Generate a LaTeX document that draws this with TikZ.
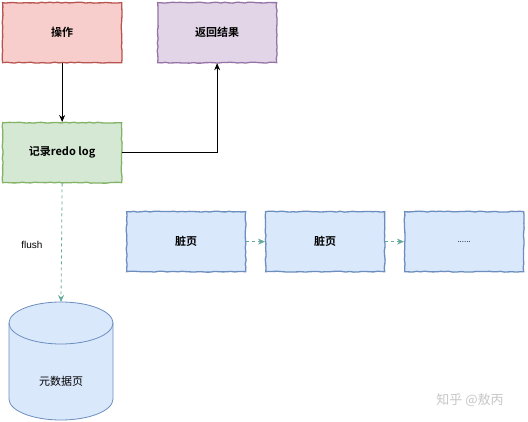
\documentclass[tikz,border=0pt]{standalone}
\usepackage{fontspec}
\setmainfont{Liberation Sans}
\newfontfamily\cjk{Noto Sans CJK SC}
\newfontfamily\cjkb{Noto Sans CJK SC Bold}
\usetikzlibrary{arrows.meta,decorations.pathmorphing}
\definecolor{redfill}{HTML}{F8CECC}\definecolor{redline}{HTML}{B85450}
\definecolor{purfill}{HTML}{E1D5E7}\definecolor{purline}{HTML}{9673A6}
\definecolor{grnfill}{HTML}{D5E8D4}\definecolor{grnline}{HTML}{82B366}
\definecolor{blufill}{HTML}{DAE8FC}\definecolor{bluline}{HTML}{6C8EBF}
\definecolor{tealline}{HTML}{67AB9F}
\begin{document}
\begin{tikzpicture}[x=1pt,y=-1pt,
  box/.style={draw, line width=1.3pt, minimum width=119pt, minimum height=60pt, anchor=north west, inner sep=0pt,
    font=\cjkb\fontsize{11}{13}\selectfont,
    decorate, decoration={random steps, segment length=4pt, amplitude=0.5pt}},
  solidarrow/.style={draw=black, line width=0.8pt, -{Stealth[length=7pt,width=6pt]}},
  dasharrow/.style={draw=tealline, line width=0.8pt, dashed, dash pattern=on 3pt off 3pt, -{Stealth[length=7pt,width=6pt]}}]
\path[use as bounding box, fill=white] (0,0) rectangle (528,422);
\node[box, fill=redfill, draw=redline] (op) at (2,2) {操作};
\node[box, fill=purfill, draw=purline] (ret) at (157,2) {返回结果};
\node[box, fill=grnfill, draw=grnline] (log) at (2,122) {记录redo log};
\node[box, fill=blufill, draw=bluline] (d1) at (126,211) {脏页};
\node[box, fill=blufill, draw=bluline] (d2) at (265,211) {脏页};
\node[box, fill=blufill, draw=bluline, font=\fontsize{8}{10}\selectfont] (d3) at (404,211) {......};
% cylinder
\draw[draw=bluline, fill=blufill, line width=0.8pt]
  (9,323) -- (9,399) arc[start angle=180, end angle=360, x radius=52, y radius=-21]
  -- (113,323) arc[start angle=0, end angle=180, x radius=52, y radius=-21] -- cycle;
\draw[draw=bluline, line width=0.8pt] (9,323) arc[start angle=180, end angle=360, x radius=52, y radius=-21];
\coordinate (dbtop) at (61,302);
\node[font=\cjk\fontsize{11}{13}\selectfont] (dbl) at (61,381) {元数据页};
\draw[solidarrow] (op.south) -- (log.north);
\draw[solidarrow] (log.east) -| (ret.south);
\draw[dasharrow] (log.south) -- (dbtop);
\draw[dasharrow] (d1.east) -- (d2.west);
\draw[dasharrow] (d2.east) -- (d3.west);
\node[font=\fontsize{10}{12}\selectfont] (fl) at (32,245) {flush};
\node[font=\cjk\fontsize{13}{15}\selectfont, text=black!22] (wm) at (470,400) {知乎 @敖丙};
\end{tikzpicture}
\end{document}
